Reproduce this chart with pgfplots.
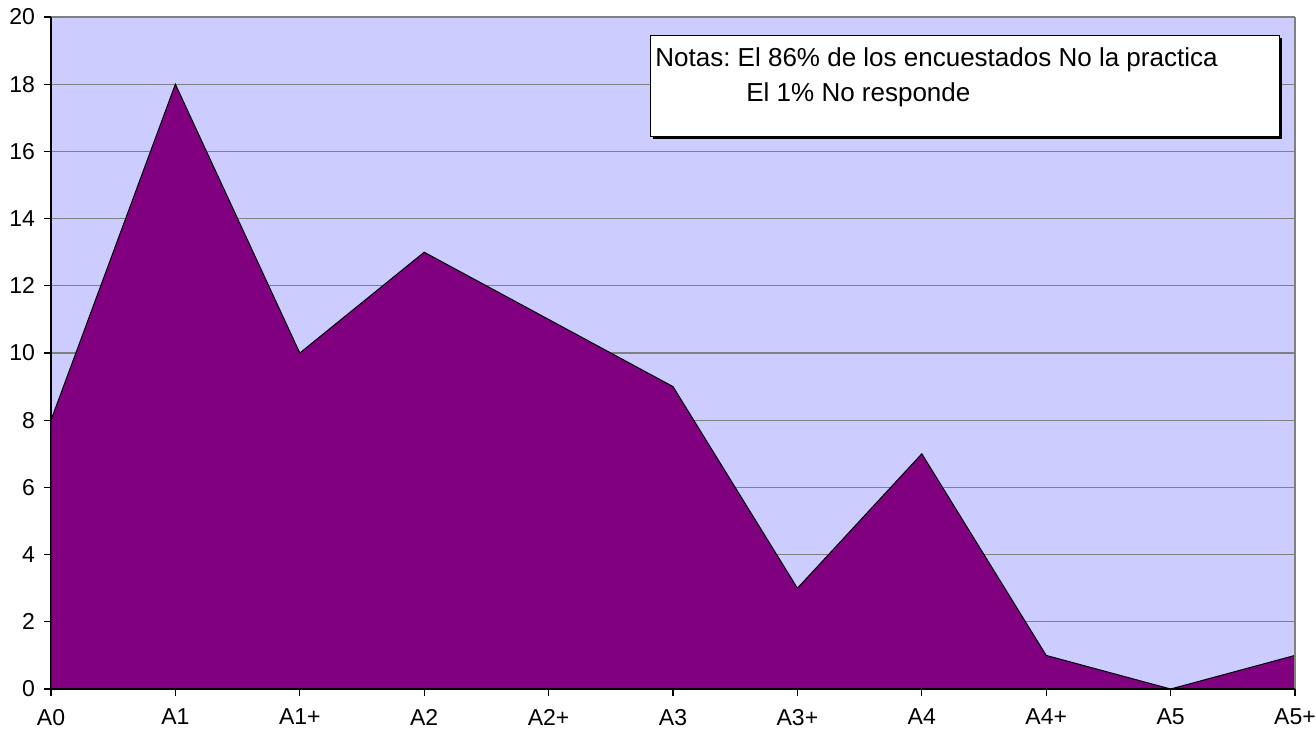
\documentclass[border=0pt]{standalone}
\usepackage{pgfplots}
\pgfplotsset{compat=1.18}
\usepackage{fontspec}
\setmainfont{Liberation Sans}
\frenchspacing
\definecolor{bgblue}{RGB}{204,204,255}
\definecolor{purp}{RGB}{128,0,128}
\definecolor{gridgray}{RGB}{128,128,128}

\begin{document}
\begin{tikzpicture}
\begin{axis}[
  scale only axis,
  width=622pt,height=336pt,
  xmin=0,xmax=10,ymin=0,ymax=20,
  xtick={0,...,10},
  xticklabels={A0,A1,A1+,A2,A2+,A3,A3+,A4,A4+,A5,A5+},
  ytick={0,2,...,20},
  axis x line*=bottom, axis y line*=left,
  axis line style={black,line width=0.8pt,-},
  tick style={black,line width=0.6pt},
  tick align=outside,
  major tick length=3.5pt,
  ymajorgrids,
  grid style={gridgray,line width=0.6pt},
  axis background/.style={fill=bgblue},
  ticklabel style={font=\fontsize{11.5}{13}\selectfont},
  /pgf/number format/assume math mode=true,
  xticklabel style={yshift=-3pt},
  yticklabel style={xshift=-1pt},
  clip=false,
]
\addplot[fill=purp,draw=black,line width=0.5pt] coordinates {
  (0,8)(1,18)(2,10)(3,13)(4,11)(5,9)(6,3)(7,7)(8,1)(9,0)(10,1)} \closedcycle;
\draw[gridgray,line width=0.6pt] (axis cs:10,0) -- (axis cs:10,20);
\draw[black,line width=0.8pt] (axis cs:0,0) -- (axis cs:10,0);
% note box with shadow
\fill[fill=black] ([xshift=1.2pt,yshift=-1.2pt]axis cs:4.823,19.46) rectangle ([xshift=1.2pt,yshift=-1.2pt]axis cs:9.879,16.43);
\draw[draw=black,fill=white,line width=0.5pt] (axis cs:4.823,19.46) rectangle (axis cs:9.879,16.43);
\node[anchor=north west,inner sep=0pt,align=left,text=black,font=\fontsize{13}{17.5}\selectfont]
  at ([xshift=2pt,yshift=-6pt]axis cs:4.823,19.46)
  {Notas: El 86\% de los encuestados No la practica\\\hspace{45.5pt}El 1\% No responde};
\end{axis}
\pgfresetboundingbox
\path (current axis.south west) ++(-25.5pt,-23pt) coordinate (bl);
\path (current axis.north east) ++(10.5pt,8.5pt) coordinate (tr);
\path[use as bounding box] (bl) rectangle (tr);
\end{tikzpicture}
\end{document}
